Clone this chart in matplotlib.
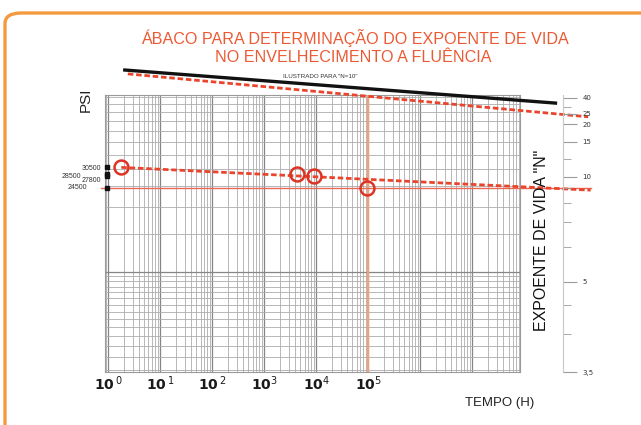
import matplotlib
matplotlib.use("Agg")
import matplotlib.pyplot as plt
import matplotlib.patches as mpatches
import matplotlib.transforms as mtransforms
from matplotlib.ticker import LogLocator, NullFormatter, FixedLocator, FixedFormatter
import numpy as np

# ── Data ─────────────────────────────────────────────────────────────────────
test_hours = [1.8, 4300, 9000, 95000]          # ensaios (tempo até ruptura)
test_psi   = [30500, 28500, 27800, 24500]      # tensão aplicada

fit_hours  = [1.8, 1.9e9]                      # reta ajustada pelos ensaios
fit_psi    = [30500, 23900]

ref_black_hours = [2.1, 4.0e8]                 # reta de referência
ref_black_psi   = [86500, 60700]
ref_red_hours   = [2.4, 1.7e9]                 # ilustrado para "N=10"
ref_red_psi     = [83000, 52400]

limit_psi   = 24500                            # linha horizontal
limit_hours = 1e5                              # linha vertical

psi_labels = ["30500", "28500", "27800", "24500"]

n_values = [40, 25, 20, 15, 10, 5, 3.5]
n_labels = ["40", "25", "20", "15", "10", "5", "3,5"]
n_minor  = [30, 12, 9, 8, 7, 6, 4.5, 4]

decade_labels = [r"$\mathbf{10}^{\,0}$", r"$\mathbf{10}^{\,1}$", r"$\mathbf{10}^{\,2}$",
                 r"$\mathbf{10}^{3}$", r"$\mathbf{10}^{4}$", r"$\mathbf{10}^{5}$"]

# ── Style ────────────────────────────────────────────────────────────────────
SANS = ["Liberation Sans", "DejaVu Sans"]
RED = "#E8452C"
TITLE_RED = "#EC5A34"
ORANGE_BORDER = "#F39A3E"

W, H = 641, 425
fig = plt.figure(figsize=(W / 100, H / 100), dpi=100)

def px(x0, y0, x1, y1):
    """pixel box -> figure fraction [left, bottom, width, height]"""
    return [x0 / W, 1 - y1 / H, (x1 - x0) / W, (y1 - y0) / H]

def fxy(x, y):
    return x / W, 1 - y / H

# moldura laranja arredondada
frame = mpatches.FancyBboxPatch((5 / W, -0.2), 1.2, 1 - 13 / H + 0.2,
                                boxstyle="round,pad=0,rounding_size=0.025",
                                transform=fig.transFigure, fill=False,
                                edgecolor=ORANGE_BORDER, linewidth=2.4)
fig.patches.append(frame)

# ── Main log-log grid ────────────────────────────────────────────────────────
ax = fig.add_axes(px(105, 95, 520, 372))
ax.set_xscale("log")
ax.set_yscale("log")
ax.set_xlim(10 ** -0.058, 10 ** 7.92)
ax.set_ylim(3410, 66200)

ax.xaxis.set_minor_locator(LogLocator(base=10, subs=np.arange(2, 10), numticks=20))
ax.yaxis.set_major_locator(LogLocator(base=10, numticks=20))
ax.yaxis.set_minor_locator(LogLocator(base=10, subs=np.arange(1, 10, 0.5), numticks=20))
ax.xaxis.set_major_locator(FixedLocator([1, 10, 100, 1e3, 1e4, 1e5, 1e6, 1e7]))
ax.xaxis.set_major_formatter(FixedFormatter(decade_labels + ["", ""]))
ax.grid(which="major", color="#858585", linewidth=0.9)
ax.grid(which="minor", color="#acacac", linewidth=0.6)
ax.tick_params(which="both", length=0, labelleft=False)
ax.yaxis.set_major_formatter(NullFormatter())
ax.yaxis.set_minor_formatter(NullFormatter())
ax.xaxis.set_minor_formatter(NullFormatter())
ax.tick_params(axis="x", labelsize=10, pad=2, labelcolor="#1a1a1a")
for s in ax.spines.values():
    s.set_color("#9a9a9a")
    s.set_linewidth(0.8)

DASH = (0, (2.0, 1.0))

# reference lines (extend past the grid)
ax.plot(ref_black_hours, ref_black_psi, color="#111111", lw=2.4, clip_on=False, zorder=5)
ax.plot(ref_red_hours, ref_red_psi, color=RED, lw=2.0, ls=DASH, clip_on=False, zorder=5)
fig.text(*fxy(320, 77), "ILUSTRADO PARA \"N=10\"", fontsize=4.5, color="#333333",
         ha="center", va="center", family=SANS)

# limit lines
ax.axvline(limit_hours, color="#F2A07A", lw=1.6, zorder=3)
trans = mtransforms.blended_transform_factory(ax.transAxes, ax.transData)
ax.plot([-0.01, 1.17], [limit_psi, limit_psi], transform=trans, color="#E86A55",
        lw=1.0, clip_on=False, zorder=3)

# fitted line + test points
ax.plot(fit_hours, fit_psi, color=RED, lw=2.0, ls=DASH, clip_on=False, zorder=4)
ax.plot(test_hours, test_psi, "o", ms=10, mfc="none", mec="#DD3324", mew=1.8, zorder=6)

# stress labels at left edge
ax.plot([0.005] * 4, test_psi, "s", transform=trans, ms=2.6, color="#111111",
        clip_on=False, zorder=6)
label_dx = [-4, -24, -4, -18]      # pixels
label_dy = [-1, -3, -4, 0]
for dx, dy, yv, lab in zip(label_dx, label_dy, test_psi, psi_labels):
    ax.annotate(lab, xy=(0, yv), xycoords=trans, xytext=(dx * 0.72, dy * 0.72),
                textcoords="offset points", fontsize=5, ha="right", va="center",
                color="#333333", family=SANS)

# axis titles
fig.text(*fxy(86, 100), "PSI", rotation=90, fontsize=11, ha="center",
         va="center", color="#222222", family=SANS)
fig.text(*fxy(500, 403), "TEMPO (H)", fontsize=9.5, ha="center", va="center",
         color="#222222", family=SANS)
fig.text(*fxy(542, 240), "EXPOENTE DE VIDA \"N\"", rotation=90, fontsize=11.5,
         ha="center", va="center", color="#111111", family=SANS)

# title
fig.text(*fxy(355, 38), "ÁBACO PARA DETERMINAÇÃO DO EXPOENTE DE VIDA",
         fontsize=11.6, ha="center", va="center", color=TITLE_RED, family=SANS)
fig.text(*fxy(353, 57), "NO ENVELHECIMENTO A FLUÊNCIA",
         fontsize=11.6, ha="center", va="center", color=TITLE_RED, family=SANS)

# ── Life-exponent scale (1/N) ────────────────────────────────────────────────
axn = fig.add_axes(px(563, 95, 577, 372))
axn.set_ylim(0.2818, 0.0222)
axn.set_xlim(0, 1)
axn.set_yticks([1 / n for n in n_values])
axn.set_yticklabels(n_labels)
axn.set_yticks([1 / n for n in n_minor], minor=True)
axn.tick_params(axis="y", which="both", left=True, right=False, labelleft=False,
                labelright=True, direction="in", color="#9a9a9a", labelsize=5,
                labelcolor="#333333", pad=4)
axn.tick_params(axis="y", which="major", length=10, width=0.8)
axn.tick_params(axis="y", which="minor", length=6, width=0.6)
axn.set_xticks([])
for name, s in axn.spines.items():
    s.set_visible(name == "left")
axn.spines["left"].set_color("#c8c8c8")
axn.patch.set_alpha(0)

fig.savefig("out.png", dpi=100)
